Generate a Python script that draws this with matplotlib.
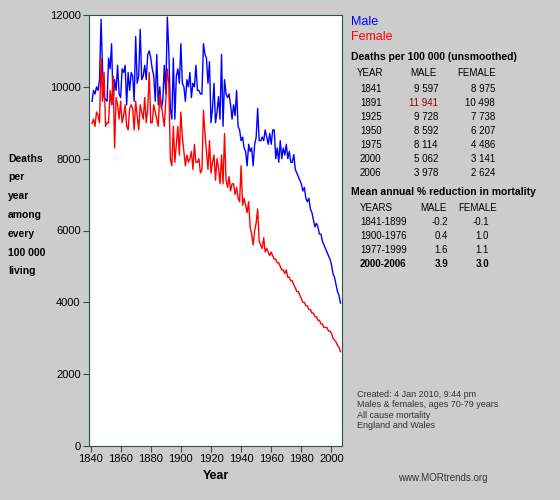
import matplotlib.pyplot as plt
import numpy as np

plt.rcParams['font.family'] = ['Liberation Sans', 'DejaVu Sans']

years = np.arange(1841, 2007)

male = [
    9597, 9900, 9800, 10000, 9900, 10200, 11880, 10500, 9700, 9650,
    9600, 10800, 10500, 11200, 9500, 10200, 9900, 10600, 9800, 9700,
    10500, 10400, 10600, 9500, 10400, 9900, 10400, 10300, 9600, 11400,
    10100, 10300, 11600, 10200, 10300, 10600, 10200, 10900, 11000, 10800,
    10500, 10300, 9600, 10900, 9500, 10000, 9400, 9600, 10600, 9800,
    11941, 11000, 9400, 9100, 10800, 9100, 10300, 10500, 10100, 11200,
    10100, 10000, 9600, 10200, 10000, 10400, 9700, 10100, 10000, 10600,
    9900, 9900, 9800, 9800, 11200, 10900, 10800, 10100, 10700, 9000,
    9400, 10100, 9000, 9300, 9728, 9100, 10900, 8900, 10200, 9800,
    9700, 9800, 9500, 9100, 9500, 9200, 9900, 8900, 8800, 8500,
    8600, 8300, 8200, 7800, 8400, 8200, 8300, 7800, 8400, 8592,
    9400, 8500, 8500, 8600, 8500, 8800, 8600, 8400, 8700, 8400,
    8800, 8800, 8000, 8300, 7900, 8500, 8000, 8300, 8100, 8400,
    8000, 8200, 7900, 7900, 8114, 7700, 7600, 7500, 7400, 7300,
    7100, 7200, 6900, 6800, 6900, 6600, 6500, 6300, 6100, 6200,
    6100, 5900, 5900, 5700, 5600, 5500, 5400, 5300, 5200, 5062,
    4800, 4700, 4500, 4300, 4200, 3978,
]

female = [
    8975, 9100, 8900, 9300, 9200, 9000, 10800, 9600, 10400, 8900,
    9000, 9000, 9900, 9500, 10300, 8300, 9700, 9500, 9100, 9600,
    9000, 9200, 9500, 8900, 8800, 9400, 9500, 9400, 8800, 9600,
    9200, 8800, 9500, 9300, 9100, 9700, 9000, 9400, 10400, 9000,
    9000, 9500, 9300, 9100, 8900, 9800, 9500, 9200, 8900, 9600,
    10498, 10100, 8000, 7800, 8900, 7900, 8400, 8900, 8100, 9300,
    8600, 8200, 7800, 8100, 7900, 8000, 8200, 7700, 8400, 7900,
    7900, 8000, 7600, 7700, 9350, 8700, 8200, 7700, 8500, 7600,
    7900, 8100, 7400, 8000, 7738, 7300, 8100, 7300, 8700, 7400,
    7200, 7500, 7100, 7300, 7300, 7000, 7200, 6900, 6800, 7800,
    6700, 6900, 6700, 6500, 6800, 6100, 5900, 5600, 6000, 6207,
    6600, 5700, 5600, 5500, 5800, 5400, 5500, 5400, 5300, 5400,
    5300, 5200, 5200, 5100, 5100, 5000, 4900, 4900, 4800, 4900,
    4700, 4700, 4600, 4600, 4486, 4400, 4300, 4300, 4200, 4100,
    4000, 4000, 3900, 3900, 3800, 3800, 3700, 3700, 3600, 3600,
    3500, 3500, 3400, 3400, 3300, 3300, 3300, 3200, 3200, 3141,
    3000, 2950, 2900, 2800, 2750, 2624,
]

x_ticks = [1840, 1860, 1880, 1900, 1920, 1940, 1960, 1980, 2000]
y_ticks = [0, 2000, 4000, 6000, 8000, 10000, 12000]

table_rows = [
    ("1841", "9 597", "8 975"),
    ("1891", "11 941", "10 498"),
    ("1925", "9 728", "7 738"),
    ("1950", "8 592", "6 207"),
    ("1975", "8 114", "4 486"),
    ("2000", "5 062", "3 141"),
    ("2006", "3 978", "2 624"),
]
reduction_rows = [
    ("1841-1899", "-0.2", "-0.1"),
    ("1900-1976", "0.4", "1.0"),
    ("1977-1999", "1.6", "1.1"),
    ("2000-2006", "3.9", "3.0"),
]

W, H = 560, 500
fig = plt.figure(figsize=(W / 100, H / 100), dpi=100)
fig.patch.set_facecolor("#cccccc")
ax = fig.add_axes([89 / W, 1 - 446 / H, (342 - 89) / W, (446 - 15) / H])
ax.plot(years, male, color="blue", lw=1)
ax.plot(years, female, color="red", lw=1)
ax.set_xlim(1839, 2007)
ax.set_ylim(0, 12000)
ax.set_xticks(x_ticks)
ax.set_yticks(y_ticks)
ax.tick_params(labelsize=8, color="#2f4f4f", length=4, pad=2)
for s in ax.spines.values():
    s.set_color("#2f4f4f")
ax.set_xlabel("Year", fontsize=9, fontweight="bold")


def px(x, y):
    return x / W, 1 - y / H


fig.text(*px(8, 215), "Deaths\nper\nyear\namong\nevery\n100 000\nliving",
         fontsize=7.5, fontweight="bold", va="center", ha="left", linespacing=2.1)

fig.text(*px(351, 22), "Male", color="blue", fontsize=9, va="center")
fig.text(*px(351, 37), "Female", color="red", fontsize=9, va="center")
fig.text(*px(351, 57), "Deaths per 100 000 (unsmoothed)", fontsize=7.5, fontweight="bold", va="center")
fig.text(*px(357, 73), "YEAR", fontsize=7, va="center")
fig.text(*px(437, 73), "MALE", fontsize=7, va="center", ha="right")
fig.text(*px(457, 73), "FEMALE", fontsize=7, va="center")
for i, (yr, m, f) in enumerate(table_rows):
    yy = 89 + i * 14
    fig.text(*px(360, yy), yr, fontsize=7, va="center")
    fig.text(*px(438, yy), m, fontsize=7, va="center", ha="right",
             color="#990000" if yr == "1891" else "black")
    fig.text(*px(495, yy), f, fontsize=7, va="center", ha="right")
fig.text(*px(351, 192), "Mean annual % reduction in mortality", fontsize=7.5, fontweight="bold", va="center")
fig.text(*px(360, 208), "YEARS", fontsize=7, va="center")
fig.text(*px(420, 208), "MALE", fontsize=7, va="center")
fig.text(*px(458, 208), "FEMALE", fontsize=7, va="center")
for i, (yr, m, f) in enumerate(reduction_rows):
    yy = 222 + i * 14
    w = "bold" if i == 3 else "normal"
    fig.text(*px(360, yy), yr, fontsize=7, va="center", fontweight=w)
    fig.text(*px(448, yy), m, fontsize=7, va="center", ha="right", fontweight=w)
    fig.text(*px(489, yy), f, fontsize=7, va="center", ha="right", fontweight=w)

fig.text(*px(357, 390), "Created: 4 Jan 2010, 9:44 pm\nMales & females, ages 70-79 years\nAll cause mortality\nEngland and Wales",
         fontsize=6.5, va="top", color="#333333", linespacing=1.2)
fig.text(*px(398, 478), "www.MORtrends.org", fontsize=7, va="center", color="#333333")

fig.savefig("out.png", dpi=100, facecolor=fig.get_facecolor())
